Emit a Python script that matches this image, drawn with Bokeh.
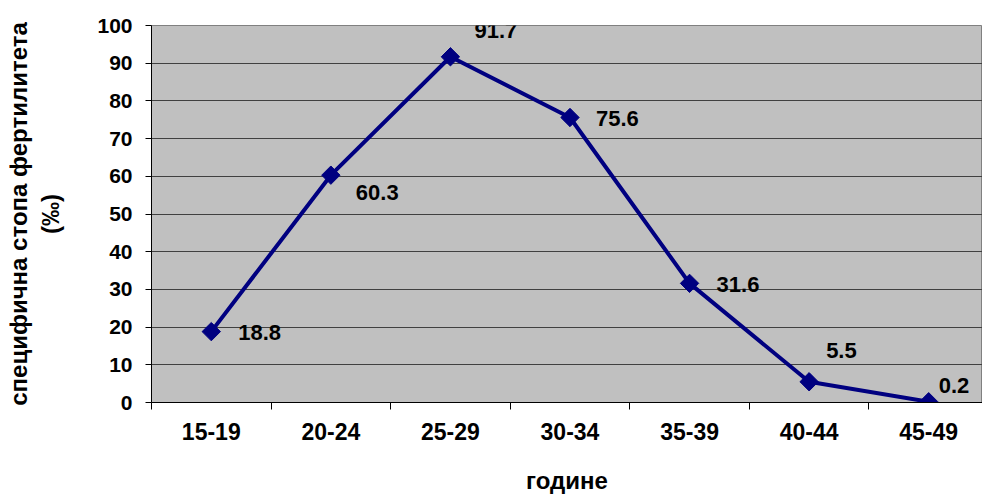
import math
from bokeh.plotting import figure
from bokeh.models import ColumnDataSource, Range1d, FixedTicker, LabelSet
from bokeh.core.properties import value
from bokeh.embed import file_html
from bokeh.resources import INLINE

age_groups = ["15-19", "20-24", "25-29", "30-34", "35-39", "40-44", "45-49"]
fertility = [18.8, 60.3, 91.7, 75.6, 31.6, 5.5, 0.2]
y_ticks = [0, 10, 20, 30, 40, 50, 60, 70, 80, 90, 100]

# label offsets in screen pixels (style, not data)
label_dx = [27, 25, 24, 26, 27, 17, 10]
label_dy = [-1, -17, 26, -1, -1, 31, 16]

FONT = "Liberation Sans"

xs = [i + 0.5 for i in range(len(age_groups))]
labels_txt = [f"{v:.1f}" for v in fertility]

src = ColumnDataSource(dict(x=xs, y=fertility, t=labels_txt, dx=label_dx, dy=label_dy))

p = figure(width=982, height=496, output_backend="svg", toolbar_location=None,
           x_range=Range1d(0, 6.95), y_range=Range1d(0, 100),
           min_border_left=151, min_border_right=0, min_border_top=25, min_border_bottom=10)

p.background_fill_color = "#C0C0C0"
p.border_fill_color = "white"
p.outline_line_color = "#808080"
p.outline_line_width = 1

p.xgrid.grid_line_color = None
p.ygrid.grid_line_color = "#404040"
p.ygrid.grid_line_width = 1
p.ygrid.ticker = FixedTicker(ticks=y_ticks)

# y axis
p.yaxis.ticker = FixedTicker(ticks=y_ticks)
p.yaxis.axis_line_color = "black"
p.yaxis.major_tick_line_color = "black"
p.yaxis.major_tick_in = 0
p.yaxis.major_tick_out = 6
p.yaxis.minor_tick_line_color = None
p.yaxis.major_label_text_font = FONT
p.yaxis.major_label_text_font_style = "bold"
p.yaxis.major_label_text_font_size = "21px"
p.yaxis.major_label_text_color = "black"
p.yaxis.major_label_standoff = 13
p.yaxis.axis_label = "специфична стопа фертилитета\n(‰)"
p.yaxis.axis_label_text_font = FONT
p.yaxis.axis_label_text_font_style = "bold"
p.yaxis.axis_label_text_font_size = "24px"
p.yaxis.axis_label_text_color = "black"
p.yaxis.axis_label_standoff = 30

# x axis
p.xaxis.ticker = FixedTicker(ticks=xs, minor_ticks=list(range(len(age_groups) + 1)))
p.xaxis.major_label_overrides = {x: c for x, c in zip(xs, age_groups)}
p.xaxis.axis_line_color = "black"
p.xaxis.major_tick_line_color = None
p.xaxis.major_tick_in = 0
p.xaxis.major_tick_out = 7
p.xaxis.minor_tick_line_color = "black"
p.xaxis.minor_tick_in = 0
p.xaxis.minor_tick_out = 7
p.xaxis.major_label_text_font = FONT
p.xaxis.major_label_text_font_style = "bold"
p.xaxis.major_label_text_font_size = "23px"
p.xaxis.major_label_text_color = "black"
p.xaxis.major_label_standoff = 13
p.xaxis.axis_label = "године"
p.xaxis.axis_label_text_font = FONT
p.xaxis.axis_label_text_font_style = "bold"
p.xaxis.axis_label_text_font_size = "24px"
p.xaxis.axis_label_text_color = "black"
p.xaxis.axis_label_standoff = 24

p.line("x", "y", source=src, line_color="#000080", line_width=4)
p.scatter("x", "y", source=src, marker="square", size=13, angle=math.pi / 4,
          fill_color="#000080", line_color="#000080")

labels = LabelSet(x="x", y="y", text="t", source=src, x_offset="dx", y_offset="dy",
                  text_font=value(FONT), text_font_style="bold", text_font_size="22px",
                  text_color="black", text_align="left", text_baseline="middle")
p.add_layout(labels)

open("out.html", "w").write(file_html(p, INLINE))
